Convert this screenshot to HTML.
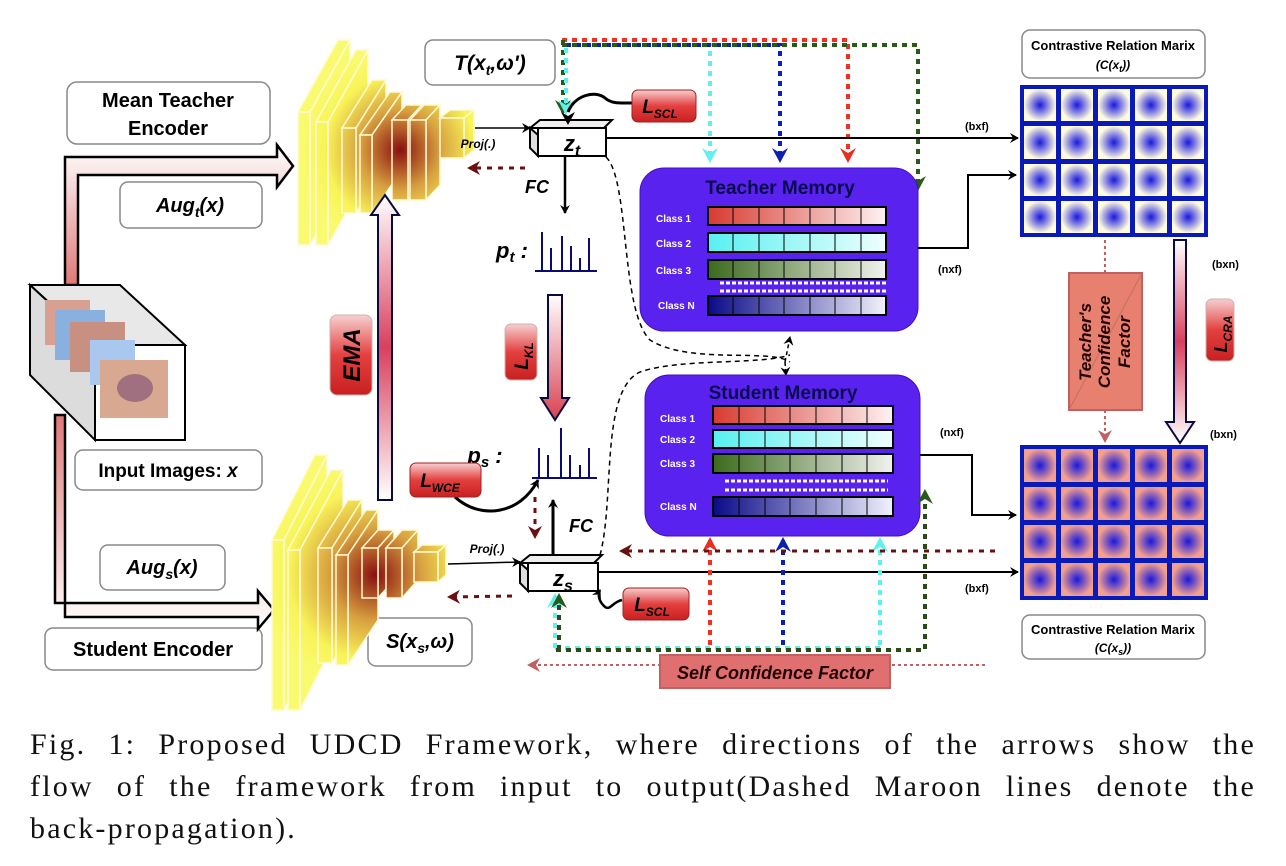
<!DOCTYPE html>
<html><head><meta charset="utf-8"><style>
body{margin:0;background:#fff;width:1286px;height:866px;overflow:hidden;position:relative;font-family:"Liberation Sans",sans-serif}
svg{position:absolute;left:0;top:0}
.cap{position:absolute;left:30px;width:1226px;font-family:"Liberation Serif",serif;font-size:30px;letter-spacing:2.2px;line-height:42px;color:#111;top:724px}
.cap div{text-align:justify;text-align-last:justify;white-space:nowrap}
.cap div.l{text-align-last:left}
</style></head><body>
<svg width="1286" height="730" viewBox="0 0 1286 730" xmlns="http://www.w3.org/2000/svg" font-family="Liberation Sans, sans-serif">
<defs>
<radialGradient id="encT" gradientUnits="userSpaceOnUse" cx="400" cy="150" r="100"><stop offset="0" stop-color="#8a1010"/><stop offset="0.4" stop-color="#d8a040"/><stop offset="0.75" stop-color="#f8f458"/><stop offset="1" stop-color="#fafa70"/></radialGradient>
<radialGradient id="encS" gradientUnits="userSpaceOnUse" cx="375" cy="575" r="115"><stop offset="0" stop-color="#8a1010"/><stop offset="0.4" stop-color="#d8a040"/><stop offset="0.75" stop-color="#f8f458"/><stop offset="1" stop-color="#fafa70"/></radialGradient>
<radialGradient id="cellT"><stop offset="0" stop-color="#1818e0"/><stop offset="1" stop-color="#fffbe0"/></radialGradient>
<radialGradient id="cellS"><stop offset="0" stop-color="#1818e0"/><stop offset="1" stop-color="#f4a090"/></radialGradient>
<linearGradient id="pinkV" x1="0" y1="1" x2="0" y2="0"><stop offset="0" stop-color="#fff"/><stop offset="0.5" stop-color="#d84060"/><stop offset="1" stop-color="#fff"/></linearGradient>
<linearGradient id="pinkUp" x1="0" y1="0" x2="0" y2="1"><stop offset="0" stop-color="#fff"/><stop offset="1" stop-color="#d84050"/></linearGradient>
<linearGradient id="arrT" x1="0" y1="1" x2="0" y2="0"><stop offset="0" stop-color="#e07878"/><stop offset="1" stop-color="#fff"/></linearGradient>
<linearGradient id="arrS" x1="0" y1="0" x2="0" y2="1"><stop offset="0" stop-color="#e07878"/><stop offset="1" stop-color="#fff"/></linearGradient>
<linearGradient id="redbtn" x1="0" y1="0" x2="0" y2="1"><stop offset="0" stop-color="#f6d0d0"/><stop offset="0.5" stop-color="#e44040"/><stop offset="1" stop-color="#c82020"/></linearGradient>
<linearGradient id="redbtnH" x1="1" y1="0" x2="0" y2="0"><stop offset="0" stop-color="#f6d0d0"/><stop offset="0.5" stop-color="#e44040"/><stop offset="1" stop-color="#c82020"/></linearGradient>
<linearGradient id="c1" x1="0" x2="1"><stop offset="0" stop-color="#d83a30"/><stop offset="1" stop-color="#fdf2f2"/></linearGradient>
<linearGradient id="c2" x1="0" x2="1"><stop offset="0" stop-color="#58f0f0"/><stop offset="1" stop-color="#effefe"/></linearGradient>
<linearGradient id="c3" x1="0" x2="1"><stop offset="0" stop-color="#3a6a1c"/><stop offset="1" stop-color="#f2f2ee"/></linearGradient>
<linearGradient id="cN" x1="0" x2="1"><stop offset="0" stop-color="#0a0a88"/><stop offset="1" stop-color="#f2f2fc"/></linearGradient>
<marker id="ab" markerWidth="10" markerHeight="10" refX="8" refY="5" orient="auto" markerUnits="userSpaceOnUse"><path d="M0,0 L9,5 L0,10 L3,5z" fill="#000"/></marker>
<marker id="am" markerWidth="14" markerHeight="14" refX="10" refY="7" orient="auto" markerUnits="userSpaceOnUse"><path d="M0,0 L13,7 L0,14 L4,7z" fill="#6a1010"/></marker>
<marker id="ap" markerWidth="14" markerHeight="14" refX="10" refY="7" orient="auto" markerUnits="userSpaceOnUse"><path d="M0,0 L13,7 L0,14 L4,7z" fill="#c06060"/></marker>
<marker id="ar" markerWidth="16" markerHeight="16" refX="12" refY="8" orient="auto" markerUnits="userSpaceOnUse"><path d="M0,0 L15,8 L0,16 L5,8z" fill="#e83020"/></marker>
<marker id="ac" markerWidth="16" markerHeight="16" refX="12" refY="8" orient="auto" markerUnits="userSpaceOnUse"><path d="M0,0 L15,8 L0,16 L5,8z" fill="#60f0f0"/></marker>
<marker id="an" markerWidth="16" markerHeight="16" refX="12" refY="8" orient="auto" markerUnits="userSpaceOnUse"><path d="M0,0 L15,8 L0,16 L5,8z" fill="#0a20b0"/></marker>
<marker id="ag" markerWidth="16" markerHeight="16" refX="12" refY="8" orient="auto" markerUnits="userSpaceOnUse"><path d="M0,0 L15,8 L0,16 L5,8z" fill="#2a5a18"/></marker>
</defs>

<g fill="none" stroke-width="4" stroke-dasharray="5,5">
<path d="M562,40 H848 V160" stroke="#f03020" marker-end="url(#ar)"/>
<path d="M566,45 H710 V160" stroke="#60f0f0" marker-end="url(#ac)"/>
<path d="M566,45 H780 V160" stroke="#0a20c0" marker-end="url(#an)"/>
<path d="M562,45 H918 V188" stroke="#2a5a18" marker-end="url(#ag)"/>
<path d="M563,40 V112" stroke="#2a5a18" marker-end="url(#ag)"/>
<path d="M566,48 V112" stroke="#60f0f0" marker-end="url(#ac)"/>
</g>

<g stroke="#888" stroke-width="1.5" fill="#fff">
<rect x="67" y="82" width="203" height="62" rx="10"/>
<rect x="120" y="182" width="142" height="46" rx="8"/>
<rect x="425" y="40" width="130" height="45" rx="8"/>
<rect x="75" y="450" width="187" height="40" rx="8"/>
<rect x="100" y="545" width="125" height="45" rx="8"/>
<rect x="45" y="628" width="217" height="42" rx="8"/>
<rect x="368" y="618" width="104" height="48" rx="8"/>
<rect x="1022" y="30" width="183" height="48" rx="8"/>
<rect x="1022" y="615" width="183" height="44" rx="8"/>
</g>
<g font-weight="bold" fill="#000" text-anchor="middle">
<text x="168" y="107" font-size="20">Mean Teacher</text>
<text x="168" y="135" font-size="20">Encoder</text>
<text x="190" y="212" font-size="20" font-style="italic">Aug<tspan font-size="14" dy="5">t</tspan><tspan dy="-5">(x)</tspan></text>
<text x="490" y="70" font-size="21" font-style="italic">T(x<tspan font-size="14" dy="5">t</tspan><tspan dy="-5">,ω')</tspan></text>
<text x="168" y="477" font-size="19">Input  Images: <tspan font-style="italic">x</tspan></text>
<text x="162" y="574" font-size="20" font-style="italic">Aug<tspan font-size="14" dy="5">s</tspan><tspan dy="-5">(x)</tspan></text>
<text x="153" y="656" font-size="20">Student Encoder</text>
<text x="420" y="648" font-size="20" font-style="italic">S(x<tspan font-size="14" dy="5">s</tspan><tspan dy="-5">,ω)</tspan></text>
<text x="1113" y="50" font-size="13">Contrastive Relation Marix</text>
<text x="1113" y="69" font-size="12" font-style="italic">(C(x<tspan font-size="9" dy="3">t</tspan><tspan dy="-3">))</tspan></text>
<text x="1113" y="634" font-size="13">Contrastive Relation Marix</text>
<text x="1113" y="652" font-size="12" font-style="italic">(C(x<tspan font-size="9" dy="3">s</tspan><tspan dy="-3">))</tspan></text>
</g>

<path d="M65,285 V157 H277 V145 L293,166 L277,187 V175 H78 V285 Z" fill="url(#arrT)" stroke="#000" stroke-width="2.5"/>
<path d="M55,415 V603 H258 V591 L274,610 L258,629 V617 H65 V415 Z" fill="url(#arrS)" stroke="#000" stroke-width="2.5"/>

<g stroke="#000" stroke-width="2">
<polygon points="30,285 120,285 185,345 95,345" fill="#e8e8e8"/>
<polygon points="30,285 95,345 95,440 30,375" fill="#dcdcdc"/>
<rect x="95" y="345" width="90" height="95" fill="#fff"/>
</g>
<rect x="45" y="300" width="45" height="45" fill="#d8a090"/>
<rect x="55" y="310" width="50" height="50" fill="#8ab0e0"/>
<rect x="70" y="322" width="55" height="50" fill="#c89080"/>
<rect x="90" y="340" width="45" height="45" fill="#a8c8f0"/>
<rect x="100" y="360" width="68" height="58" fill="#d8a890"/>
<ellipse cx="135" cy="388" rx="18" ry="14" fill="#a07080"/>

<g fill="url(#encT)" stroke="#fffad0" stroke-width="1.5">
<polygon points="298,112 338,40 350,40 310,112"/><polygon points="310,112 350,40 350,173 310,245"/><rect x="298" y="112" width="12" height="133"/>
<polygon points="316,122 356,50 368,50 328,122"/><polygon points="328,122 368,50 368,173 328,245"/><rect x="316" y="122" width="12" height="123"/>
<polygon points="342,128 372,80 386,80 356,128"/><polygon points="356,128 386,80 386,165 356,213"/><rect x="342" y="128" width="14" height="85"/>
<polygon points="360,135 390,92 402,92 372,135"/><polygon points="372,135 402,92 402,170 372,213"/><rect x="360" y="135" width="12" height="78"/>
<polygon points="392,120 406,105 422,105 408,120"/><polygon points="408,120 422,105 422,185 408,200"/><rect x="392" y="120" width="16" height="80"/>
<polygon points="410,120 424,105 440,105 426,120"/><polygon points="426,120 440,105 440,185 426,200"/><rect x="410" y="120" width="16" height="80"/>
<polygon points="440,118 450,110 474,110 464,118"/><polygon points="464,118 474,110 474,150 464,158"/><rect x="440" y="118" width="24" height="40"/>
</g>
<g fill="url(#encS)" stroke="#fffad0" stroke-width="1.5">
<polygon points="272,540 315,455 327,455 284,540"/><polygon points="284,540 327,455 327,625 284,710"/><rect x="272" y="540" width="12" height="170"/>
<polygon points="288,550 331,470 343,470 300,550"/><polygon points="300,550 343,470 343,625 300,710"/><rect x="288" y="550" width="12" height="160"/>
<polygon points="318,548 348,500 362,500 332,548"/><polygon points="332,548 362,500 362,615 332,663"/><rect x="318" y="548" width="14" height="115"/>
<polygon points="336,555 366,510 378,510 348,555"/><polygon points="348,555 378,510 378,620 348,665"/><rect x="336" y="555" width="12" height="110"/>
<polygon points="362,548 378,530 394,530 378,548"/><polygon points="378,548 394,530 394,580 378,598"/><rect x="362" y="548" width="16" height="50"/>
<polygon points="386,548 402,530 418,530 402,548"/><polygon points="402,548 418,530 418,580 402,598"/><rect x="386" y="548" width="16" height="50"/>
<polygon points="414,552 422,545 446,545 438,552"/><polygon points="438,552 446,545 446,575 438,582"/><rect x="414" y="552" width="24" height="30"/>
</g>

<path d="M378,500 V215 H371 L385,195 L399,215 H392 V500 Z" fill="url(#pinkV)" stroke="#0a0a40" stroke-width="2"/>
<g transform="translate(351,355) rotate(-90)"><rect x="-40" y="-21" width="80" height="42" rx="7" fill="url(#redbtnH)" stroke="#d0b0b0"/><text x="0" y="9" text-anchor="middle" font-size="24" font-weight="bold" font-style="italic">EMA</text></g>

<path d="M548,295 V398 H541 L555,420 L569,398 H562 V295 Z" fill="url(#pinkUp)" stroke="#0a0a40" stroke-width="2"/>
<g transform="translate(521,352) rotate(-90)"><rect x="-28" y="-16" width="56" height="32" rx="6" fill="url(#redbtnH)" stroke="#d0b0b0"/><text x="-4" y="7" text-anchor="middle" font-size="19" font-weight="bold" font-style="italic">L<tspan font-size="12" dy="5">KL</tspan></text></g>

<g stroke="#000" stroke-width="2">
<polygon points="530,128 540,120 612,120 604,128" fill="#eee"/>
<polygon points="530,128 538,135 538,156 530,148" fill="#ddd"/>
<rect x="538" y="128" width="68" height="28" fill="#fff"/>
</g>
<text x="572" y="151" font-size="22" font-weight="bold" font-style="italic" text-anchor="middle">z<tspan font-size="16" dy="5">t</tspan></text>
<line x1="475" y1="128" x2="530" y2="128" stroke="#000" stroke-width="1.5" marker-end="url(#ab)"/>
<text x="478" y="148" font-size="12" font-weight="bold" font-style="italic" text-anchor="middle">Proj(.)</text>
<line x1="525" y1="168" x2="470" y2="168" stroke="#6a1010" stroke-width="3" stroke-dasharray="5,6" marker-end="url(#am)"/>
<line x1="565" y1="157" x2="565" y2="213" stroke="#000" stroke-width="2.5" marker-end="url(#ab)"/>
<text x="537" y="193" font-size="18" font-weight="bold" font-style="italic" text-anchor="middle">FC</text>
<text x="512" y="258" font-size="22" font-weight="bold" font-style="italic" text-anchor="middle">p<tspan font-size="15" dy="4">t</tspan><tspan dy="-4"> :</tspan></text>
<g stroke="#0a0a70" stroke-width="2"><line x1="535" y1="271" x2="597" y2="271"/><line x1="542" y1="271" x2="542" y2="232"/><line x1="551" y1="271" x2="551" y2="248"/><line x1="562" y1="271" x2="562" y2="236"/><line x1="571" y1="271" x2="571" y2="246"/><line x1="580" y1="271" x2="580" y2="258"/><line x1="589" y1="271" x2="589" y2="238"/></g>

<path d="M568,112 C575,95 595,90 605,98 C612,104 620,103 632,103" fill="none" stroke="#000" stroke-width="3"/>
<path d="M561,112 L568,116 L575,112 L568,125Z" fill="#000"/>
<rect x="632" y="90" width="64" height="32" rx="6" fill="url(#redbtn)" stroke="#a02020"/>
<text x="660" y="113" font-size="19" font-weight="bold" font-style="italic" text-anchor="middle">L<tspan font-size="12" dy="5">SCL</tspan></text>

<line x1="606" y1="138" x2="1018" y2="138" stroke="#000" stroke-width="2" marker-end="url(#ab)"/>
<text x="965" y="130" font-size="11" font-weight="bold">(bxf)</text>

<path d="M606,157 C630,180 620,310 650,340 C690,365 770,348 790,362" fill="none" stroke="#000" stroke-width="1.5" stroke-dasharray="5,4"/>
<path d="M600,555 C615,500 600,390 640,372 C680,358 760,365 790,355" fill="none" stroke="#000" stroke-width="1.5" stroke-dasharray="5,4"/>
<line x1="785" y1="362" x2="790" y2="337" stroke="#000" stroke-width="1.5" stroke-dasharray="4,3" marker-end="url(#ab)"/>
<line x1="785" y1="362" x2="786" y2="375" stroke="#000" stroke-width="1.5" stroke-dasharray="4,3" marker-end="url(#ab)"/>

<rect x="640" y="168" width="278" height="163" rx="24" fill="#5a22ee" stroke="#4010c0"/>
<text x="780" y="194" font-size="19" font-weight="bold" fill="#0a0a50" text-anchor="middle">Teacher Memory</text>
<g font-size="10" font-weight="bold" fill="#fff">
<text x="656" y="222">Class 1</text><text x="656" y="247">Class 2</text><text x="656" y="274">Class 3</text><text x="658" y="309">Class N</text></g>
<g stroke="#000" stroke-width="2">
<rect x="708" y="207" width="178" height="18" fill="url(#c1)"/>
<rect x="708" y="233" width="178" height="19" fill="url(#c2)"/>
<rect x="708" y="260" width="178" height="19" fill="url(#c3)"/>
<rect x="708" y="296" width="178" height="19" fill="url(#cN)"/>
</g>
<g stroke="#000" stroke-width="1"><path d="M733,207v18M759,207v18M784,207v18M810,207v18M835,207v18M861,207v18 M733,233v19M759,233v19M784,233v19M810,233v19M835,233v19M861,233v19 M733,260v19M759,260v19M784,260v19M810,260v19M835,260v19M861,260v19 M733,296v19M759,296v19M784,296v19M810,296v19M835,296v19M861,296v19"/></g>
<g stroke="#fff" stroke-width="3" stroke-dasharray="4,2"><line x1="720" y1="283" x2="886" y2="283"/><line x1="720" y1="291" x2="886" y2="291"/></g>

<rect x="645" y="375" width="275" height="161" rx="24" fill="#5a22ee" stroke="#4010c0"/>
<text x="783" y="399" font-size="19" font-weight="bold" fill="#0a0a50" text-anchor="middle">Student Memory</text>
<g font-size="10" font-weight="bold" fill="#fff">
<text x="660" y="422">Class 1</text><text x="660" y="443">Class 2</text><text x="660" y="467">Class 3</text><text x="660" y="510">Class N</text></g>
<g stroke="#000" stroke-width="2">
<rect x="713" y="406" width="180" height="18" fill="url(#c1)"/>
<rect x="713" y="430" width="180" height="18" fill="url(#c2)"/>
<rect x="713" y="454" width="180" height="19" fill="url(#c3)"/>
<rect x="713" y="497" width="180" height="19" fill="url(#cN)"/>
</g>
<g stroke="#000" stroke-width="1"><path d="M739,406v18M765,406v18M790,406v18M816,406v18M842,406v18M867,406v18 M739,430v18M765,430v18M790,430v18M816,430v18M842,430v18M867,430v18 M739,454v19M765,454v19M790,454v19M816,454v19M842,454v19M867,454v19 M739,497v19M765,497v19M790,497v19M816,497v19M842,497v19M867,497v19"/></g>
<g stroke="#fff" stroke-width="3" stroke-dasharray="4,2"><line x1="725" y1="481" x2="888" y2="481"/><line x1="725" y1="490" x2="888" y2="490"/></g>

<polyline points="918,248 968,248 968,175 1016,175" fill="none" stroke="#000" stroke-width="2" marker-end="url(#ab)"/>
<text x="938" y="273" font-size="11" font-weight="bold">(nxf)</text>
<polyline points="920,455 972,455 972,515 1016,515" fill="none" stroke="#000" stroke-width="2" marker-end="url(#ab)"/>
<text x="940" y="436" font-size="11" font-weight="bold">(nxf)</text>

<rect x="1020" y="85" width="188" height="152" fill="#0a1ab8"/>
<g fill="url(#cellT)">
<rect x="1024" y="89" width="32" height="32"/><rect x="1061" y="89" width="32" height="32"/><rect x="1098" y="89" width="32" height="32"/><rect x="1135" y="89" width="32" height="32"/><rect x="1172" y="89" width="32" height="32"/>
<rect x="1024" y="126" width="32" height="33"/><rect x="1061" y="126" width="32" height="33"/><rect x="1098" y="126" width="32" height="33"/><rect x="1135" y="126" width="32" height="33"/><rect x="1172" y="126" width="32" height="33"/>
<rect x="1024" y="164" width="32" height="32"/><rect x="1061" y="164" width="32" height="32"/><rect x="1098" y="164" width="32" height="32"/><rect x="1135" y="164" width="32" height="32"/><rect x="1172" y="164" width="32" height="32"/>
<rect x="1024" y="201" width="32" height="32"/><rect x="1061" y="201" width="32" height="32"/><rect x="1098" y="201" width="32" height="32"/><rect x="1135" y="201" width="32" height="32"/><rect x="1172" y="201" width="32" height="32"/>
</g>
<rect x="1020" y="445" width="188" height="155" fill="#0a1ab8"/>
<g fill="url(#cellS)">
<rect x="1024" y="449" width="32" height="33"/><rect x="1061" y="449" width="32" height="33"/><rect x="1098" y="449" width="32" height="33"/><rect x="1135" y="449" width="32" height="33"/><rect x="1172" y="449" width="32" height="33"/>
<rect x="1024" y="487" width="32" height="33"/><rect x="1061" y="487" width="32" height="33"/><rect x="1098" y="487" width="32" height="33"/><rect x="1135" y="487" width="32" height="33"/><rect x="1172" y="487" width="32" height="33"/>
<rect x="1024" y="525" width="32" height="33"/><rect x="1061" y="525" width="32" height="33"/><rect x="1098" y="525" width="32" height="33"/><rect x="1135" y="525" width="32" height="33"/><rect x="1172" y="525" width="32" height="33"/>
<rect x="1024" y="563" width="32" height="33"/><rect x="1061" y="563" width="32" height="33"/><rect x="1098" y="563" width="32" height="33"/><rect x="1135" y="563" width="32" height="33"/><rect x="1172" y="563" width="32" height="33"/>
</g>

<path d="M1174,240 V422 H1166 L1180,443 L1194,422 H1186 V240 Z" fill="url(#pinkV)" stroke="#0a0a40" stroke-width="2"/>
<text x="1212" y="268" font-size="11" font-weight="bold">(bxn)</text>
<text x="1210" y="438" font-size="11" font-weight="bold">(bxn)</text>
<g transform="translate(1220,330) rotate(-90)"><rect x="-31" y="-14" width="62" height="28" rx="6" fill="url(#redbtnH)" stroke="#d0b0b0"/><text x="-4" y="7" text-anchor="middle" font-size="18" font-weight="bold" font-style="italic">L<tspan font-size="12" dy="5">CRA</tspan></text></g>

<line x1="1105" y1="240" x2="1105" y2="275" stroke="#c06060" stroke-width="2" stroke-dasharray="3,3"/>
<line x1="1105" y1="410" x2="1105" y2="440" stroke="#c06060" stroke-width="2" stroke-dasharray="3,3" marker-end="url(#ap)"/>
<rect x="1069" y="273" width="73" height="137" fill="#e88070" stroke="#c06060" stroke-width="2"/>
<line x1="1069" y1="410" x2="1142" y2="273" stroke="#c07060" stroke-width="1"/>
<g transform="translate(1105,342) rotate(-90)" font-size="17" font-weight="bold" font-style="italic" text-anchor="middle" fill="#200">
<text x="0" y="-14">Teacher's</text><text x="0" y="5">Confidence</text><text x="0" y="25">Factor</text></g>

<g stroke="#000" stroke-width="2">
<polygon points="520,563 530,555 602,555 594,563" fill="#eee"/>
<polygon points="520,563 528,570 528,591 520,583" fill="#ddd"/>
<rect x="528" y="563" width="70" height="28" fill="#fff"/>
</g>
<text x="563" y="586" font-size="22" font-weight="bold" font-style="italic" text-anchor="middle">z<tspan font-size="16" dy="5">s</tspan></text>
<line x1="448" y1="564" x2="520" y2="562" stroke="#000" stroke-width="1.5" marker-end="url(#ab)"/>
<text x="487" y="553" font-size="12" font-weight="bold" font-style="italic" text-anchor="middle">Proj(.)</text>
<line x1="512" y1="596" x2="450" y2="597" stroke="#6a1010" stroke-width="3" stroke-dasharray="5,6" marker-end="url(#am)"/>
<line x1="598" y1="572" x2="1018" y2="572" stroke="#000" stroke-width="2" marker-end="url(#ab)"/>
<text x="965" y="592" font-size="11" font-weight="bold">(bxf)</text>
<line x1="553" y1="555" x2="553" y2="500" stroke="#000" stroke-width="3" marker-end="url(#ab)"/>
<text x="581" y="532" font-size="18" font-weight="bold" font-style="italic" text-anchor="middle">FC</text>
<line x1="535" y1="497" x2="535" y2="536" stroke="#6a1010" stroke-width="3" stroke-dasharray="5,6" marker-end="url(#am)"/>
<text x="485" y="463" font-size="22" font-weight="bold" font-style="italic" text-anchor="middle">p<tspan font-size="15" dy="4">s</tspan><tspan dy="-4"> :</tspan></text>
<g stroke="#0a0a70" stroke-width="2"><line x1="532" y1="478" x2="597" y2="478"/><line x1="539" y1="478" x2="539" y2="448"/><line x1="548" y1="478" x2="548" y2="455"/><line x1="561" y1="478" x2="561" y2="428"/><line x1="570" y1="478" x2="570" y2="455"/><line x1="580" y1="478" x2="580" y2="465"/><line x1="589" y1="478" x2="589" y2="448"/></g>

<path d="M455,497 C480,520 520,515 538,480" fill="none" stroke="#000" stroke-width="3" marker-end="url(#ab)"/>
<rect x="410" y="463" width="71" height="34" rx="6" fill="url(#redbtn)" stroke="#a02020"/>
<text x="440" y="487" font-size="19" font-weight="bold" font-style="italic" text-anchor="middle">L<tspan font-size="12" dy="5">WCE</tspan></text>

<path d="M622,600 C612,602 610,612 604,606 C598,600 598,594 600,590" fill="none" stroke="#000" stroke-width="2.5" marker-end="url(#ab)"/>
<rect x="623" y="588" width="66" height="32" rx="6" fill="url(#redbtn)" stroke="#a02020"/>
<text x="652" y="611" font-size="19" font-weight="bold" font-style="italic" text-anchor="middle">L<tspan font-size="12" dy="5">SCL</tspan></text>

<g fill="none" stroke-width="4" stroke-dasharray="5,5">
<path d="M710,645 V540" stroke="#f03020" marker-end="url(#ar)"/>
<path d="M783,645 V540" stroke="#0a20b0" marker-end="url(#an)"/>
<path d="M880,645 V540" stroke="#60f0f0" marker-end="url(#ac)"/>
<path d="M555,648 H880" stroke="#60f0f0"/>
<path d="M556,650 H925 V492" stroke="#2a4a18" marker-end="url(#ag)"/>
<path d="M555,648 V596" stroke="#60f0f0" marker-end="url(#ac)"/>
<path d="M559,650 V596" stroke="#2a4a18" marker-end="url(#ag)"/>
</g>
<line x1="995" y1="551" x2="622" y2="551" stroke="#6a1010" stroke-width="3" stroke-dasharray="5,6" marker-end="url(#am)"/>
<line x1="985" y1="665" x2="530" y2="665" stroke="#c06060" stroke-width="2" stroke-dasharray="3,3" marker-end="url(#ap)"/>
<rect x="660" y="655" width="230" height="33" fill="#e07070" stroke="#c06060" stroke-width="2"/>
<text x="775" y="679" font-size="18" font-weight="bold" font-style="italic" text-anchor="middle" fill="#200">Self Confidence Factor</text>
</svg>
<div class="cap">
<div>Fig. 1: Proposed UDCD Framework, where directions of the arrows show the</div>
<div>flow of the framework from input to output(Dashed Maroon lines denote the</div>
<div class="l">back-propagation).</div>
</div>
</body></html>
